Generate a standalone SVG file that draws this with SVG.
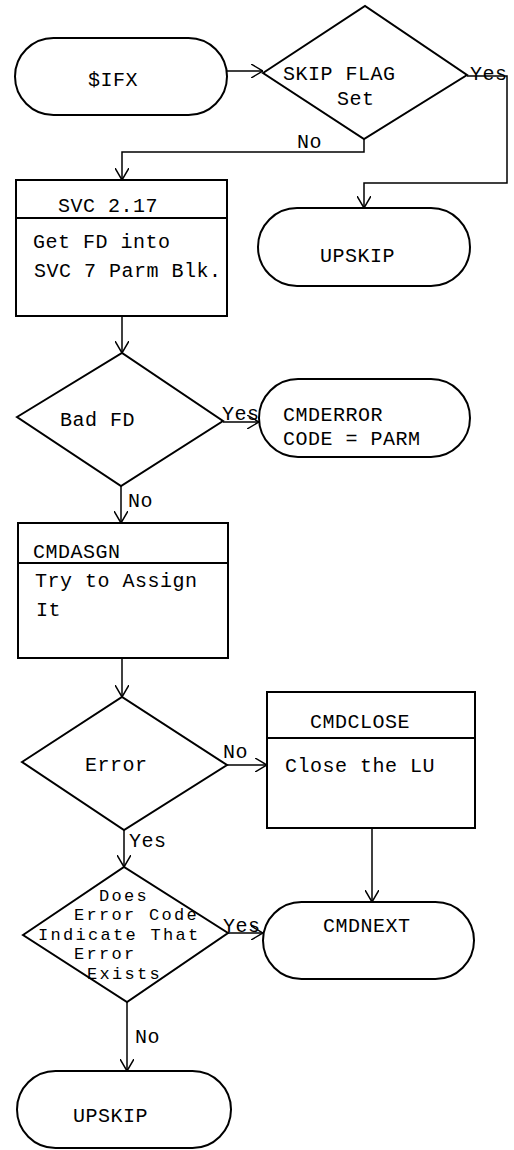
<svg xmlns="http://www.w3.org/2000/svg" width="514" height="1150" viewBox="0 0 514 1150">
<style>
.shape{fill:none;stroke:#000;stroke-width:2}
.conn{fill:none;stroke:#000;stroke-width:1.5}
text{font-family:"Liberation Mono","Courier New",monospace;font-size:20px;letter-spacing:0.5px;fill:#000}
.tight{font-size:17px;letter-spacing:2.3px}
</style>
<defs>
<marker id="arr" viewBox="0 0 12 14" refX="12" refY="7" markerWidth="12" markerHeight="14" markerUnits="userSpaceOnUse" orient="auto">
<path d="M0,0 L12,7 L0,14" fill="none" stroke="#000" stroke-width="1.5"/>
</marker>
</defs>
<rect width="514" height="1150" fill="#fff"/>
<g id="connectors">
<path class="conn" d="M227,71 L263,71" marker-end="url(#arr)"/>
<path class="conn" d="M467,76 L507,76 L507,183 L364,183 L364,208" marker-end="url(#arr)"/>
<path class="conn" d="M364,139 L364,152 L122,152 L122,180" marker-end="url(#arr)"/>
<path class="conn" d="M122,316 L122,353" marker-end="url(#arr)"/>
<path class="conn" d="M223,422 L259,422" marker-end="url(#arr)"/>
<path class="conn" d="M121,486 L121,523" marker-end="url(#arr)"/>
<path class="conn" d="M122,658 L122,697" marker-end="url(#arr)"/>
<path class="conn" d="M227,765 L267,765" marker-end="url(#arr)"/>
<path class="conn" d="M124,830 L124,867" marker-end="url(#arr)"/>
<path class="conn" d="M372,828 L372,902" marker-end="url(#arr)"/>
<path class="conn" d="M228,933 L263,933" marker-end="url(#arr)"/>
<path class="conn" d="M127,1002 L127,1071" marker-end="url(#arr)"/>
<text x="470" y="80">Yes</text>
<text x="297" y="148">No</text>
<text x="222" y="420">Yes</text>
<text x="128" y="507">No</text>
<text x="223" y="758">No</text>
<text x="129" y="847">Yes</text>
<text x="223" y="932">Yes</text>
<text x="135" y="1043">No</text>
</g>
<g id="ifx">
<rect class="shape" x="15" y="38" width="212" height="77" rx="38.5"/>
<text x="88" y="86">$IFX</text>
</g>
<g id="skipflag">
<polygon class="shape" points="263,73 365,6 467,75 364,139"/>
<text x="283" y="80">SKIP FLAG</text>
<text x="337" y="105">Set</text>
</g>
<g id="svc217">
<rect class="shape" x="16" y="180" width="211" height="136"/>
<line class="shape" x1="16" y1="218" x2="227" y2="218"/>
<text x="58" y="212">SVC 2.17</text>
<text x="33" y="248">Get FD into</text>
<text x="34" y="277">SVC 7 Parm Blk.</text>
</g>
<g id="upskip1">
<rect class="shape" x="258" y="208" width="212" height="78" rx="39"/>
<text x="320" y="262">UPSKIP</text>
</g>
<g id="badfd">
<polygon class="shape" points="17,417 122,353 223,421 121,486"/>
<text x="60" y="426">Bad FD</text>
</g>
<g id="cmderror">
<rect class="shape" x="259" y="379" width="211" height="78" rx="39"/>
<text x="283" y="421">CMDERROR</text>
<text x="283" y="445">CODE = PARM</text>
</g>
<g id="cmdasgn">
<rect class="shape" x="18" y="523" width="210" height="135"/>
<line class="shape" x1="18" y1="563" x2="228" y2="563"/>
<text x="33" y="558">CMDASGN</text>
<text x="35" y="587">Try to Assign</text>
<text x="36" y="616">It</text>
</g>
<g id="error">
<polygon class="shape" points="22,762 122,697 227,765 124,830"/>
<text x="85" y="771">Error</text>
</g>
<g id="cmdclose">
<rect class="shape" x="267" y="692" width="208" height="136"/>
<line class="shape" x1="267" y1="738" x2="475" y2="738"/>
<text x="310" y="728">CMDCLOSE</text>
<text x="285" y="772">Close the LU</text>
</g>
<g id="doeserror">
<polygon class="shape" points="23,935 124,867 228,933 127,1002"/>
<text class="tight" x="99" y="901">Does</text>
<text class="tight" x="74" y="920">Error Code</text>
<text class="tight" x="38" y="940">Indicate That</text>
<text class="tight" x="74" y="959">Error</text>
<text class="tight" x="87" y="979">Exists</text>
</g>
<g id="cmdnext">
<rect class="shape" x="263" y="902" width="211" height="77" rx="38.5"/>
<text x="323" y="932">CMDNEXT</text>
</g>
<g id="upskip2">
<rect class="shape" x="17" y="1071" width="214" height="77" rx="38.5"/>
<text x="73" y="1122">UPSKIP</text>
</g>
</svg>
